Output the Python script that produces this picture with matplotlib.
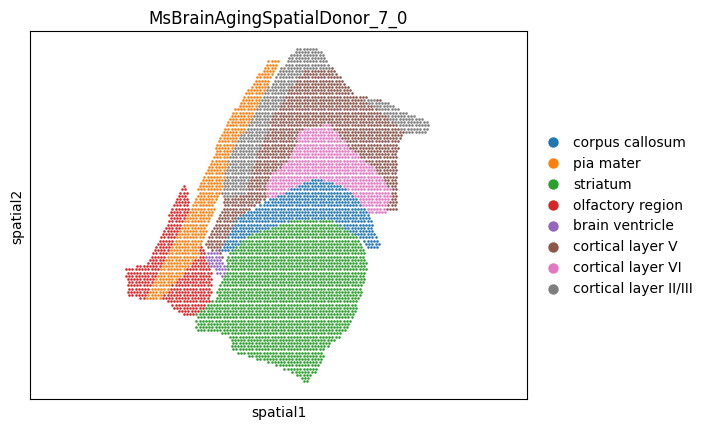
import numpy as np
import matplotlib.pyplot as plt
from matplotlib.path import Path

# region outlines (spatial1, spatial2 ~ image pixel units, y up)
categories = ["corpus callosum", "pia mater", "striatum", "olfactory region",
              "brain ventricle", "cortical layer V", "cortical layer VI",
              "cortical layer II/III"]
colors = ["#1f77b4", "#ff7f0e", "#2ca02c", "#d62728", "#9467bd",
          "#8c564b", "#e377c2", "#7f7f7f"]

striatum = [(195,315),(215,300),(228,255),(250,235),(290,222),(330,220),(360,240),
            (368,265),(360,300),(348,330),(325,350),(320,368),(305,385),(295,375),
            (280,368),(262,362),(232,352),(228,335),(195,332)]
corpus = [(220,250),(235,220),(270,200),(315,178),(345,188),(368,212),(380,248),
          (368,250),(360,240),(330,220),(290,222),(250,235),(228,255)]
layer6 = [(265,200),(268,178),(290,160),(300,130),(330,125),(350,150),(375,170),
          (392,192),(385,215),(370,215),(345,188),(315,178),(270,200)]
ventricle = [(205,255),(215,250),(228,270),(222,280),(210,268)]
pia = [(145,300),(165,260),(185,222),(200,185),(215,150),(235,110),(255,80),
       (270,60),(280,62),(265,92),(247,130),(228,175),(212,215),(197,258),(160,300)]
olfactory = [(125,270),(145,265),(160,240),(175,200),(185,185),(192,215),(205,255),
             (212,272),(210,315),(185,318),(165,302),(145,300),(128,298)]
layer23 = [(220,200),(228,160),(250,120),(268,88),(288,58),(298,47),(322,50),
           (332,70),(305,70),(290,88),(272,118),(258,152),(245,195)]
layer23b = [(358,98),(385,102),(410,115),(430,122),(428,133),(405,133),(380,112)]
layer5 = [(205,245),(225,200),(240,150),(262,115),(282,85),(300,65),(330,66),
          (355,95),(380,100),(405,125),(398,150),(397,210),(385,210),(375,170),
          (350,150),(330,125),(300,130),(290,160),(268,178),(265,200),(235,220),(220,265)]

# order decides which region wins where outlines overlap
regions = [
    ("brain ventricle", [ventricle]),
    ("corpus callosum", [corpus]),
    ("striatum", [striatum]),
    ("cortical layer VI", [layer6]),
    ("cortical layer II/III", [layer23, layer23b]),
    ("pia mater", [pia]),
    ("olfactory region", [olfactory]),
    ("cortical layer V", [layer5]),
]

step = 3.2
gx, gy = np.meshgrid(np.arange(110, 440, step), np.arange(40, 395, step))
gx[1::2] += step / 2
pts = np.column_stack([gx.ravel(), gy.ravel()])
label = np.full(len(pts), -1)
for name, polys in regions:
    idx = categories.index(name)
    for poly in polys:
        inside = Path(poly).contains_points(pts) & (label < 0)
        label[inside] = idx

fig = plt.figure(figsize=(7.12, 4.31), dpi=100)
ax = fig.add_axes([30/712, 31/431, 497/712, 368/431])
for i, (name, c) in enumerate(zip(categories, colors)):
    m = label == i
    ax.scatter(pts[m, 0], 431 - pts[m, 1], s=3.5, c=c, linewidths=0, label=name)
ax.set_xlim(30, 527)
ax.set_ylim(431 - 400, 431 - 32)
ax.set_xticks([])
ax.set_yticks([])
ax.set_xlabel("spatial1")
ax.set_ylabel("spatial2")
ax.set_title("MsBrainAgingSpatialDonor_7_0")
ax.legend(loc="center left", bbox_to_anchor=(1.0, 0.5), frameon=False,
          markerscale=4, handletextpad=0.4)
fig.savefig("out.png", dpi=100)
